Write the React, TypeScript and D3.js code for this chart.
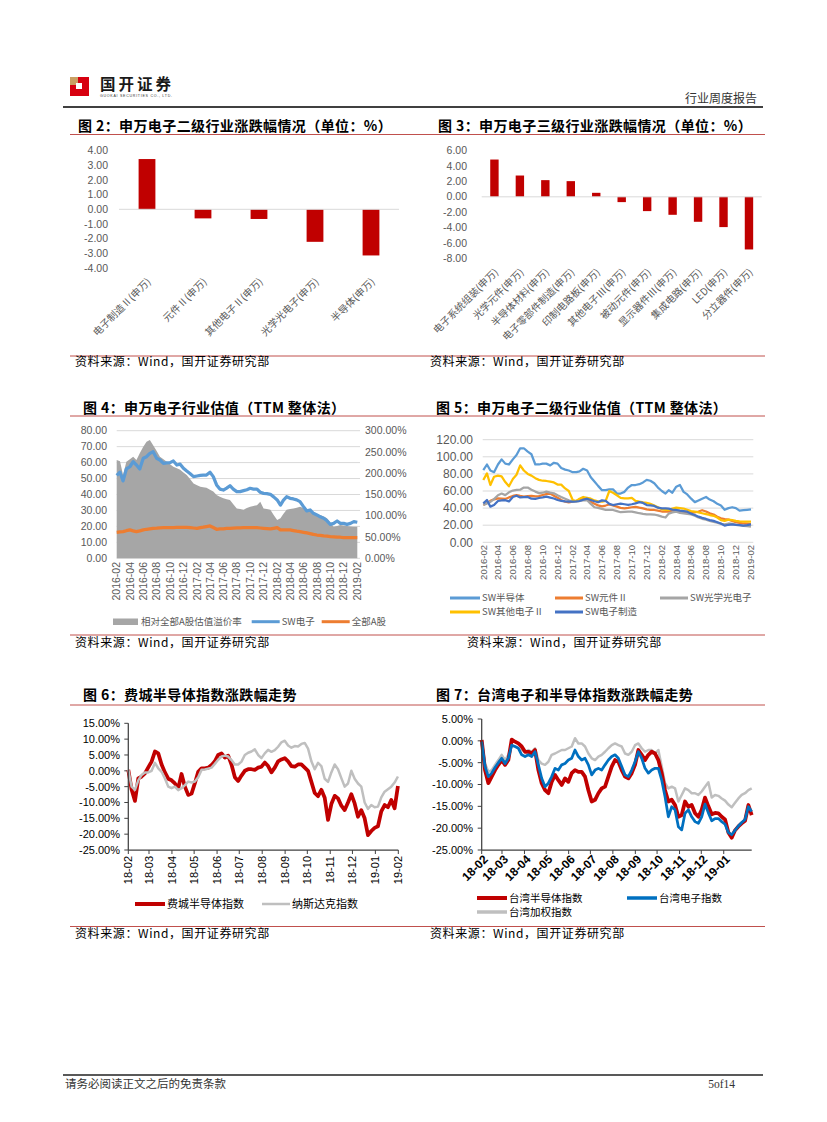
import React from "react";
import * as d3 from "d3";

// ---------- data ----------
const fig2Cats = ["电子制造Ⅱ(申万)", "元件Ⅱ(申万)", "其他电子Ⅱ(申万)", "光学光电子(申万)", "半导体(申万)"];
const fig2Values = [3.43, -0.62, -0.66, -2.22, -3.15];
const fig2Ticks = [4, 3, 2, 1, 0, -1, -2, -3, -4];

const fig3Cats = [
  "电子系统组装(申万)", "光学元件(申万)", "半导体材料(申万)", "电子零部件制造(申万)", "印制电路板(申万)",
  "其他电子Ⅲ(申万)", "被动元件(申万)", "显示器件Ⅲ(申万)", "集成电路(申万)", "LED(申万)", "分立器件(申万)",
];
const fig3Values = [4.85, 2.77, 2.17, 2.04, 0.52, -0.69, -1.86, -2.34, -3.25, -3.94, -6.85];
const fig3Ticks = [6, 4, 2, 0, -2, -4, -6, -8];

// fig 4: half-monthly, 2016-02 .. 2019-02
const fig4Premium = [
  231, 228, 196, 227, 233, 239, 231, 247, 262, 274,
  278, 266, 252, 239, 233, 227, 221, 215, 212, 208,
  202, 196, 186, 176, 172, 168, 167, 166, 161, 157,
  149, 145, 141, 139, 137, 127, 117, 116, 114, 118,
  121, 123, 125, 133, 117, 116, 114, 102, 90, 94,
  104, 114, 116, 117, 119, 121, 118, 114, 110, 106,
  104, 102, 98, 94, 84, 74, 76, 78, 77, 76,
  75, 74, 74,
];
const fig4SW = [
  52, 54, 48.5, 56, 57.4, 60.6, 58.5, 56, 62.7, 63.7,
  65.8, 66.8, 62.7, 61.6, 59.5, 59.8, 60, 61, 58.5, 59,
  56.4, 54.7, 53, 51.2, 51.6, 52, 52.2, 52.2, 53.9, 51.2,
  46, 43.4, 42.8, 44, 45.5, 43.4, 41.8, 41.8, 42.4, 43,
  43.9, 43.4, 43.4, 41.4, 40.7, 40.5, 40.1, 38.5, 36.6, 33.4,
  36.3, 38.6, 37.6, 37.2, 36.6, 35.5, 32.4, 29.7, 30.3, 28.2,
  27.2, 26, 25.1, 23.5, 21.3, 21.9, 23.4, 21.9, 21.9, 21.3,
  21.9, 23, 22.6,
];
const fig4AllA = [
  16.3, 16.5, 16.7, 17.3, 17.8, 17.2, 16.7, 17.2, 17.8, 18.2,
  18.5, 18.8, 18.9, 19.1, 19.2, 19.2, 19.3, 19.3, 19.4, 19.4,
  19.4, 19.4, 19.2, 19.0, 18.8, 19.2, 19.5, 19.9, 20.3, 19.3,
  18.2, 18.4, 18.5, 18.7, 18.8, 18.9, 19.0, 19.1, 19.2, 19.2,
  19.2, 19.2, 19.2, 19.0, 18.8, 18.6, 18.4, 18.8, 19.2, 17.8,
  17.8, 17.8, 17.8, 17.4, 17.0, 16.7, 16.3, 15.9, 15.5, 15.0,
  14.6, 14.4, 14.1, 13.9, 13.6, 13.5, 13.3, 13.2, 13.0, 13.0,
  13.0, 13.0, 13.0,
];
const fig4LeftTicks = [0, 10, 20, 30, 40, 50, 60, 70, 80];
const fig4RightTicks = [0, 50, 100, 150, 200, 250, 300];
const fig45XTicks = [
  "2016-02", "2016-04", "2016-06", "2016-08", "2016-10", "2016-12",
  "2017-02", "2017-04", "2017-06", "2017-08", "2017-10", "2017-12",
  "2018-02", "2018-04", "2018-06", "2018-08", "2018-10", "2018-12", "2019-02",
];

// fig 5: half-monthly, 2016-02 .. 2019-02
const fig5Semi = [
  84.5, 91, 84, 82, 91, 97, 92, 91, 97, 102,
  110, 110, 106, 103, 91, 91, 92, 92, 90, 93,
  92, 87, 85, 84, 82, 82, 83, 86, 84, 76,
  71, 66, 61, 61, 62, 62, 57, 57, 59, 64,
  67, 67, 68, 70, 73, 72, 69, 64, 60, 57,
  61, 58, 65, 67, 59, 56, 51, 47, 49, 51,
  53, 50, 48, 45, 43, 38, 40, 41, 40, 37,
  37.5, 38, 38.6,
];
const fig5Comp = [
  43.6, 46, 48.5, 50.3, 51.3, 51, 50.7, 52.5, 54.2, 55.3,
  54.3, 53.5, 54, 54.4, 53.6, 54, 55.3, 56.3, 57, 54.5,
  52, 49.5, 47.5, 46.8, 47.5, 48.3, 50, 51.2, 49.5, 47.5,
  45, 43.2, 42, 43, 44.2, 43, 41.7, 40.2, 39.8, 40.3,
  41, 41.5, 40.5, 39.7, 38.5, 37.8, 37.8, 37, 36, 35.8,
  35.8, 37, 37.8, 36.5, 35.8, 35.4, 35.1, 35.1, 36, 37.5,
  36, 33.9, 32.5, 30, 28, 27, 26.5, 25, 23.5, 22.8,
  22, 21.7, 21.4,
];
const fig5Optic = [
  43.6, 45.5, 47.3, 50.5, 55, 57, 55.2, 58.5, 60.5, 61.2,
  61.5, 64, 64, 61.5, 59.3, 57.5, 58, 59.2, 58, 57.3,
  55, 53, 51, 49.2, 47.6, 48, 48.3, 49, 49.2, 45,
  41, 40.3, 39, 38, 37.8, 37.8, 36.5, 35.2, 35.5, 35.8,
  35.8, 35, 34, 33.3, 32.7, 32.7, 32.5, 31.5, 30, 29,
  33.5, 35, 35.8, 34.5, 33.9, 33.2, 32.6, 31, 29, 27.5,
  26.5, 25, 24, 23, 21.5, 21, 22, 21.5, 20.5, 20,
  19.3, 19, 18.3,
];
const fig5Other = [
  72.8, 80.6, 67, 76.7, 78, 77, 70.5, 65.5, 74, 79,
  90, 84, 80, 78, 75, 73, 72, 71.7, 71, 70,
  67.5, 67.5, 63, 60, 49.5, 48.3, 51, 53, 52, 51,
  49, 48, 47.5, 48.5, 60, 58, 55, 52, 51.4, 51.4,
  52, 48.5, 47.5, 46.7, 46, 45, 43, 41, 38.5, 37.8,
  38, 39.5, 40.5, 40, 39.5, 38, 36.5, 36, 35, 34,
  33, 31.9, 31, 29, 26, 25, 26.5, 26, 25, 24.5,
  24.2, 24.2, 24.2,
];
const fig5Mfg = [
  45.6, 49.5, 41.7, 43.6, 48.3, 49, 49.2, 47.8, 53, 54.5,
  52.5, 52.8, 53, 51, 50.8, 51.8, 52.5, 53.4, 52.3, 51.2,
  49.5, 48.5, 47.8, 47.5, 47.5, 47.8, 48.3, 49.8, 51, 49.5,
  48, 47, 49, 48.5, 45, 43.6, 44.5, 45.3, 44.5, 43.8,
  44.5, 45.5, 47, 46, 43.6, 43.2, 42.5, 40.5, 39.7, 39.7,
  39.3, 38.3, 37.8, 37, 36.4, 35.8, 33.5, 32, 30, 28.5,
  27.3, 26, 25, 23.5, 22, 19.5, 20.5, 21, 20.5, 20,
  19.5, 20, 21,
];
const fig5Ticks = [0, 20, 40, 60, 80, 100, 120];

// fig 6: every ~4.5 days from 2018-02-01 (%)
const fig6Phlx = [
  0.3, -6, -9.5, -2.4, -1.8, -0.8, 1.1, 2.9, 6.1, 5.5,
  2, -0.5, -2.5, -3, -4, -5.5, -1, -5, -7.6, -7.2,
  -3.9, -0.3, 0.8, 0.8, 1, 1.8, 3, 5, 5.5, 4.2,
  4.8, 2, -2, -3.2, -1.5, 0, 0.5, 0.5, 0.3, 1,
  1.3, 2.6, 1.5, -0.5, 1, 3, 3.6, 4, 3, 1.5,
  1.3, 2, 2, 1, 0, -3.5, -7, -8, -6, -8.5,
  -15.5, -10.5, -7.9, -8.7, -11, -12.4, -10, -7.4, -10.3, -14.5,
  -12.4, -15, -20.3, -19, -18, -17.5, -12.8, -10.8, -11.5, -9.2,
  -11.8, -4.8,
];
const fig6Nasdaq = [
  0.3, -5, -6, -3, -1.3, -0.5, -0.5, 0, 2.5, 0.8,
  -0.3, -2.4, -5, -5.5, -5, -6.1, -5.5, -4.5, -3.4, -3.7,
  -3.4, -2, 0.3, 0.4, 0.7, 1, 2.2, 3.5, 4.5, 4.8,
  4.5, 3.4, 2, 2, 2.9, 5, 5.7, 6.1, 6.8, 5,
  4, 5.5, 6.6, 6, 6.5, 7.6, 9, 9.5, 8, 7.3,
  7.8, 7.7, 8.5, 8.8, 7, 3, 0.5, 2.5, 1.5, -2.5,
  -3.5, -0.5, 2, 0.5, -2.3, -5, -4, 0, -2.5, -4,
  -5, -10, -12, -10.8, -11.5, -11.3, -8.4, -6.6, -5.8, -5,
  -3.7, -1.8,
];
const fig6Ticks = [15, 10, 5, 0, -5, -10, -15, -20, -25];
const fig6XTicks = ["18-02", "18-03", "18-04", "18-05", "18-06", "18-07", "18-08", "18-09", "18-10", "18-11", "18-12", "19-01", "19-02"];

// fig 7: every ~4.6 days from 2018-02-01 (%)
const fig7Semi = [
  0.2, -6.7, -9.7, -8.2, -6.7, -5.5, -4.4, -5.5, -4.4, 0.3,
  -0.2, -0.6, -1.3, -2.5, -2.5, -2.9, -2.1, -6.7, -9.7, -11.3,
  -12, -9.4, -7.8, -9, -10.1, -8.6, -9.4, -7.4, -6.7, -7.1,
  -7.1, -8.2, -11.3, -13.9, -13.5, -12, -10.9, -10.5, -8.2, -5.9,
  -4.4, -4.8, -6.7, -8.2, -8.6, -7.4, -5.5, -2.1, -3.2, -4.4,
  -3.2, -2.5, -2.9, -4.4, -7.4, -11.3, -13.9, -13.5, -14.7, -17.4,
  -17, -13.9, -15.1, -14.7, -16.6, -17.4, -15.8, -13, -15, -16.8,
  -16.5, -16.6, -17.4, -18, -21, -22.2, -20.5, -19.6, -18.9, -18.3,
  -14.7, -17,
];
const fig7Elec = [
  -0.2, -5.9, -8.2, -7.4, -6.1, -5, -4, -5.2, -4, -1,
  -1.3, -1.7, -3.2, -3.6, -3.2, -3.6, -2.5, -5.5, -8.6, -10.5,
  -9.7, -8.2, -6.3, -6.7, -5.5, -5.2, -4.4, -4, -2.1, -3.6,
  -4.4, -4, -5.5, -7.8, -6.7, -6.3, -6.7, -5.5, -4.4, -3.6,
  -3.2, -4, -5.9, -7.8, -8.2, -6.7, -4.8, -2.5, -4, -6.3,
  -7.4, -6.7, -6.3, -6.3, -9, -12.8, -17.4, -15.1, -15.8, -19.7,
  -20.4, -16.6, -15.8, -17.4, -18.5, -18.9, -17.4, -14.5, -16.5, -18.3,
  -17.8, -17.8, -18.5, -19.1, -21, -21.5, -20.5, -19.5, -18.7, -18,
  -15.1, -16.2,
];
const fig7Taiex = [
  0.2, -5.2, -7.1, -6.7, -5.5, -4.4, -3.2, -4.4, -3.2, -1,
  -1.3, -1.7, -2.1, -2.5, -2.1, -2.5, -1.7, -4.4, -5.2, -5.5,
  -4.8, -3.2, -2.9, -2.5, -2.1, -2.1, -1.7, -1.3, 0.6, -0.6,
  -0.6, -1.3, -2.9, -4, -4.4, -3.6, -3.2, -2.5, -1.7, -1,
  -0.6, -1, -1.3, -2.9, -3.2, -2.5, -1, -0.6, -1.7, -2.5,
  -2.1, -2.1, -2.9, -2.1, -5.9, -9.7, -10.9, -10.5, -10.9, -13.9,
  -12.4, -10.9, -11.3, -12, -12, -12.4, -11.6, -10.5, -9.5, -13,
  -12.4, -12.6, -13.2, -13.7, -14.6, -15.2, -14.2, -13.2, -12.4, -12,
  -11.3, -10.9,
];
const fig7Ticks = [5, 0, -5, -10, -15, -20, -25];
const fig7XTicks = ["18-02", "18-03", "18-04", "18-05", "18-06", "18-07", "18-08", "18-09", "18-10", "18-11", "18-12", "19-01"];

// ---------- styles ----------
const RED = "#C00000";
const RULE = "#C0504D";
const LABEL = "#595959";
const GRID = "#D9D9D9";
const CJK = "'Noto Sans CJK SC', 'Noto Sans', sans-serif";
const NUM = "'Liberation Sans', Arial, 'Noto Sans CJK SC', sans-serif";
const SOURCE = "资料来源：Wind，国开证券研究部";

const halfMonth = fig4SW.map((_, i) =>
  d3.timeDay.offset(d3.timeMonth.offset(new Date(2016, 1, 1), Math.floor(i / 2)), i % 2 ? 15 : 0)
);
const fig6Dates = fig6Phlx.map((_, i) => d3.timeHour.offset(new Date(2018, 1, 1), i * 108));
const fig7Dates = fig7Semi.map((_, i) => d3.timeHour.offset(new Date(2018, 1, 1), Math.round(i * 110.4)));
const parseLong = d3.timeParse("%Y-%m");
const parseShort = d3.timeParse("%y-%m");

function Title({ x, y, text }: { x: number; y: number; text: string }) {
  return (
    <text x={x} y={y} fontFamily={CJK} fontWeight={700} fontSize={14} letterSpacing={0.4} fill="#000">{text}</text>
  );
}

function Source({ x, y }: { x: number; y: number }) {
  return (
    <text x={x} y={y} fontFamily={CJK} fontSize={12} fill="#000" letterSpacing={0.6}>{SOURCE}</text>
  );
}

function BarChart({ cats, values, ticks, yDomain, yRange, xRange, labelRight, pad }: any) {
  const y = d3.scaleLinear().domain(yDomain).range(yRange);
  const x = d3.scaleBand<string>().domain(cats).range(xRange).paddingInner(pad).paddingOuter(pad / 2);
  const yBottom = yRange[0];
  return (
    <g>
      {ticks.map((t: number) => (
        <text key={t} x={labelRight} y={y(t)} dy="0.35em" textAnchor="end" fontFamily={NUM} fontSize={10.5} fill={LABEL}>
          {t.toFixed(2)}
        </text>
      ))}
      {cats.map((c: string, i: number) => {
        const v = values[i];
        return (
          <rect key={c} x={x(c)} width={x.bandwidth()} y={Math.min(y(v), y(0))} height={Math.abs(y(v) - y(0))} fill={RED} />
        );
      })}
      <line x1={xRange[0]} x2={xRange[1]} y1={y(0)} y2={y(0)} stroke={GRID} strokeWidth={1} />
      {cats.map((c: string) => {
        const cx = (x(c) as number) + x.bandwidth() / 2;
        return (
          <text key={c} transform={`translate(${cx + 2},${yBottom + 12}) rotate(-45)`} dy="0.35em" textAnchor="end"
            fontFamily={CJK} fontSize={10} fill={LABEL}>{c}</text>
        );
      })}
    </g>
  );
}

function LegendLine({ x, y, color, label, w = 30, sw = 3 }: any) {
  return (
    <g>
      <line x1={x} x2={x + w} y1={y} y2={y} stroke={color} strokeWidth={sw} />
      <text x={x + w + 2} y={y} dy="0.35em" fontFamily={CJK} fontSize={9.5} fill={LABEL}>{label}</text>
    </g>
  );
}

function Fig4() {
  const x = d3.scaleTime().domain([new Date(2016, 1, 1), new Date(2019, 1, 1)]).range([116.7, 357.3]);
  const yL = d3.scaleLinear().domain([0, 80]).range([558.3, 430.7]);
  const yR = d3.scaleLinear().domain([0, 300]).range([558.3, 430.7]);
  const area = d3.area<number>().x((_, i) => x(halfMonth[i])).y0(yR(0)).y1((d) => yR(d));
  const line = d3.line<number>().x((_, i) => x(halfMonth[i])).y((d) => yL(d));
  return (
    <g>
      {fig4LeftTicks.map((t) => (
        <g key={t}>
          <line x1={116.7} x2={360} y1={yL(t)} y2={yL(t)} stroke={GRID} />
          <text x={107} y={yL(t)} dy="0.35em" textAnchor="end" fontFamily={NUM} fontSize={10.5} fill={LABEL}>{t.toFixed(2)}</text>
        </g>
      ))}
      {fig4RightTicks.map((t) => (
        <text key={t} x={365} y={yR(t)} dy="0.35em" fontFamily={NUM} fontSize={10.5} fill={LABEL}>{t.toFixed(2)}%</text>
      ))}
      <path d={area(fig4Premium) as string} fill="#A6A6A6" />
      <path d={line(fig4SW) as string} fill="none" stroke="#5B9BD5" strokeWidth={3.25} strokeLinejoin="round" />
      <path d={line(fig4AllA) as string} fill="none" stroke="#ED7D31" strokeWidth={3.25} strokeLinejoin="round" />
      {fig45XTicks.map((t) => (
        <text key={t} transform={`translate(${x(parseLong(t) as Date)},562) rotate(-90)`} dy="0.35em" textAnchor="end"
          fontFamily={NUM} fontSize={10.5} fill={LABEL}>{t}</text>
      ))}
      <rect x={113} y={618.5} width={25} height={6.5} fill="#A6A6A6" />
      <text x={141} y={621.7} dy="0.35em" fontFamily={CJK} fontSize={9.5} fill={LABEL}>相对全部A股估值溢价率</text>
      <LegendLine x={251.7} y={621.7} w={28} color="#5B9BD5" label="SW电子" />
      <LegendLine x={321.7} y={621.7} w={28} color="#ED7D31" label="全部A股" />
    </g>
  );
}

function Fig5() {
  const x = d3.scaleTime().domain([new Date(2016, 1, 1), new Date(2019, 1, 1)]).range([483.3, 751]);
  const y = d3.scaleLinear().domain([0, 120]).range([542.3, 439.7]);
  const line = d3.line<number>().x((_, i) => x(halfMonth[i])).y((d) => y(d));
  const series = [
    { v: fig5Semi, c: "#5B9BD5" },
    { v: fig5Comp, c: "#ED7D31" },
    { v: fig5Optic, c: "#A5A5A5" },
    { v: fig5Other, c: "#FFC000" },
    { v: fig5Mfg, c: "#4472C4" },
  ];
  return (
    <g>
      {fig5Ticks.map((t) => (
        <g key={t}>
          <line x1={482.7} x2={753.3} y1={y(t)} y2={y(t)} stroke={GRID} />
          <text x={473} y={y(t)} dy="0.35em" textAnchor="end" fontFamily={NUM} fontSize={12} fill={LABEL}>{t.toFixed(2)}</text>
        </g>
      ))}
      {series.map((s, i) => (
        <path key={i} d={line(s.v) as string} fill="none" stroke={s.c} strokeWidth={2.25} strokeLinejoin="round" />
      ))}
      {fig45XTicks.map((t) => (
        <text key={t} transform={`translate(${x(parseLong(t) as Date)},545) rotate(-90)`} dy="0.35em" textAnchor="end"
          fontFamily={NUM} fontSize={9.5} fill={LABEL}>{t}</text>
      ))}
      <LegendLine x={450} y={598} color="#5B9BD5" label="SW半导体" />
      <LegendLine x={555} y={598} w={28} color="#ED7D31" label="SW元件Ⅱ" />
      <LegendLine x={660} y={598} w={28} color="#A5A5A5" label="SW光学光电子" />
      <LegendLine x={450} y={612} color="#FFC000" label="SW其他电子Ⅱ" />
      <LegendLine x={555} y={612} w={28} color="#4472C4" label="SW电子制造" />
    </g>
  );
}

function Fig6() {
  const x = d3.scaleTime().domain([new Date(2018, 1, 1), new Date(2019, 1, 1)]).range([128.3, 398.3]);
  const y = d3.scaleLinear().domain([-25, 15]).range([850, 723.3]);
  const line = d3.line<number>().x((_, i) => x(fig6Dates[i])).y((d) => y(d));
  return (
    <g>
      {fig6Ticks.map((t) => (
        <g key={t}>
          <line x1={124.3} x2={128.3} y1={y(t)} y2={y(t)} stroke="#404040" />
          <text x={120} y={y(t)} dy="0.35em" textAnchor="end" fontFamily={NUM} fontSize={11} fill="#000">{t.toFixed(2)}%</text>
        </g>
      ))}
      <path d={line(fig6Phlx) as string} fill="none" stroke={RED} strokeWidth={3.75} strokeLinejoin="round" />
      <path d={line(fig6Nasdaq) as string} fill="none" stroke="#BFBFBF" strokeWidth={2.5} strokeLinejoin="round" />
      <line x1={128.3} x2={128.3} y1={723.3} y2={850} stroke="#404040" strokeWidth={1.25} />
      <line x1={128.3} x2={398.3} y1={850} y2={850} stroke="#404040" strokeWidth={1.25} />
      {fig6XTicks.map((t) => {
        const tx = x(parseShort(t) as Date);
        return (
          <g key={t}>
            <line x1={tx} x2={tx} y1={850} y2={854} stroke="#404040" />
            <text transform={`translate(${tx},856) rotate(-90)`} dy="0.35em" textAnchor="end" fontFamily={NUM} fontSize={11} fill="#000">{t}</text>
          </g>
        );
      })}
      <line x1={135} x2={165} y1={904} y2={904} stroke={RED} strokeWidth={4} />
      <text x={167} y={904} dy="0.35em" fontFamily={CJK} fontSize={11} fill="#000">费城半导体指数</text>
      <line x1={262} x2={290} y1={904} y2={904} stroke="#BFBFBF" strokeWidth={2.5} />
      <text x={292} y={904} dy="0.35em" fontFamily={CJK} fontSize={11} fill="#000">纳斯达克指数</text>
    </g>
  );
}

function Fig7() {
  const x = d3.scaleTime().domain([fig7Dates[0], fig7Dates[fig7Dates.length - 1]]).range([481.7, 751.7]);
  const y = d3.scaleLinear().domain([-25, 5]).range([850, 719]);
  const line = d3.line<number>().x((_, i) => x(fig7Dates[i])).y((d) => y(d));
  return (
    <g>
      {fig7Ticks.map((t) => (
        <g key={t}>
          <line x1={477.7} x2={481.7} y1={y(t)} y2={y(t)} stroke="#404040" />
          <text x={473} y={y(t)} dy="0.35em" textAnchor="end" fontFamily={NUM} fontSize={11} fill="#000">{t.toFixed(2)}%</text>
        </g>
      ))}
      <path d={line(fig7Taiex) as string} fill="none" stroke="#BFBFBF" strokeWidth={2.5} strokeLinejoin="round" />
      <path d={line(fig7Semi) as string} fill="none" stroke={RED} strokeWidth={3.75} strokeLinejoin="round" />
      <path d={line(fig7Elec) as string} fill="none" stroke="#0070C0" strokeWidth={2.75} strokeLinejoin="round" />
      <line x1={481.7} x2={481.7} y1={719} y2={850} stroke="#404040" strokeWidth={1.25} />
      <line x1={481.7} x2={751.7} y1={850} y2={850} stroke="#404040" strokeWidth={1.25} />
      {fig7XTicks.map((t) => {
        const tx = x(parseShort(t) as Date);
        return (
          <g key={t}>
            <line x1={tx} x2={tx} y1={850} y2={854} stroke="#404040" />
            <text transform={`translate(${tx + 4},857) rotate(-45)`} dy="0.35em" textAnchor="end" fontFamily={NUM}
              fontWeight={700} fontSize={12} fill="#000">{t}</text>
          </g>
        );
      })}
      <line x1={477} x2={507} y1={898} y2={898} stroke={RED} strokeWidth={4} />
      <text x={509} y={898} dy="0.35em" fontFamily={CJK} fontSize={10.5} fill="#000">台湾半导体指数</text>
      <line x1={627} x2={657} y1={898} y2={898} stroke="#0070C0" strokeWidth={3.5} />
      <text x={659} y={898} dy="0.35em" fontFamily={CJK} fontSize={10.5} fill="#000">台湾电子指数</text>
      <line x1={477} x2={507} y1={912} y2={912} stroke="#BFBFBF" strokeWidth={3.5} />
      <text x={509} y={912} dy="0.35em" fontFamily={CJK} fontSize={10.5} fill="#000">台湾加权指数</text>
    </g>
  );
}

export default function App() {
  const rules = [134.5, 356, 416, 635, 705, 926.5];
  return (
    <div style={{ position: "absolute", left: 0, top: 0 }}>
      <svg width={827} height={1122} style={{ display: "block" }}>
        <rect width={827} height={1122} fill="#fff" />
        {/* header */}
        <rect x={70} y={77} width={19} height={19} fill="#D7000F" />
        <rect x={70} y={77} width={8} height={8} fill="#C9A063" />
        <rect x={76} y={83} width={6} height={6} fill="#fff" />
        <text x={100} y={90} fontFamily={CJK} fontWeight={700} fontSize={15.5} letterSpacing={3} fill="#1a1a1a">国开证券</text>
        <text x={100} y={97} fontFamily={NUM} fontSize={3.6} textLength={72} fill="#333">GUOKAI SECURITIES CO., LTD.</text>
        <text x={757} y={103} textAnchor="end" fontFamily={CJK} fontSize={12} fill="#333">行业周度报告</text>
        <line x1={63} x2={763} y1={107} y2={107} stroke="#404040" strokeWidth={2} />

        {rules.map((r) => (
          <line key={r} x1={70} x2={765} y1={r} y2={r} stroke={RULE} strokeWidth={1} />
        ))}

        <Title x={78} y={131} text="图 2：申万电子二级行业涨跌幅情况（单位：%）" />
        <Title x={438} y={131} text="图 3：申万电子三级行业涨跌幅情况（单位：%）" />
        <Title x={83} y={413} text="图 4：申万电子行业估值（TTM 整体法）" />
        <Title x={436} y={413} text="图 5：申万电子二级行业估值（TTM 整体法）" />
        <Title x={83} y={700} text="图 6：费城半导体指数涨跌幅走势" />
        <Title x={436} y={700} text="图 7：台湾电子和半导体指数涨跌幅走势" />

        <BarChart cats={fig2Cats} values={fig2Values} ticks={fig2Ticks} yDomain={[-4, 4]} yRange={[267.9, 150.7]}
          xRange={[119, 399]} labelRight={108} pad={0.7} />
        <BarChart cats={fig3Cats} values={fig3Values} ticks={fig3Ticks} yDomain={[-8, 6]} yRange={[258.3, 150.7]}
          xRange={[481.7, 761.7]} labelRight={467} pad={0.67} />
        <Fig4 />
        <Fig5 />
        <Fig6 />
        <Fig7 />

        <Source x={75} y={366} />
        <Source x={430} y={366} />
        <Source x={75} y={647} />
        <Source x={467} y={647} />
        <Source x={75} y={938} />
        <Source x={430} y={938} />

        {/* footer */}
        <line x1={63} x2={763} y1={1075} y2={1075} stroke="#222" strokeWidth={1.5} />
        <text x={65} y={1088} fontFamily={CJK} fontSize={11.5} fill="#333">请务必阅读正文之后的免责条款</text>
        <text x={735} y={1088} textAnchor="end" fontFamily="'Liberation Serif', serif" fontSize={11.5} fill="#333">5of14</text>
      </svg>
    </div>
  );
}
